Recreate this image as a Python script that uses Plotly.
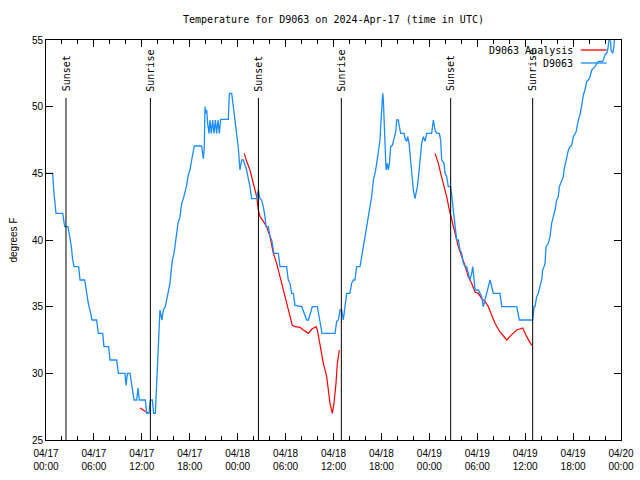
import plotly.graph_objects as go

# ---- data (hours since 2024-04-17 00:00 UTC) ----
obs_hours = [0, 0.83, 1.0, 1.25, 2.09, 2.34, 2.75, 3.0, 3.17, 3.34, 3.51, 4.09, 4.26, 4.84, 5.01, 5.3, 5.59, 5.76,
             6.34, 6.55, 7.1, 7.26, 7.85, 8.01, 8.85, 9.06, 9.89, 10.02, 10.19, 10.52, 10.77, 11.02, 11.36, 11.52,
             11.69, 12.44, 12.6, 12.9, 13.06, 13.31, 13.48, 13.69, 13.86,
             14.02, 14.15, 14.27, 14.52, 14.69, 14.94, 15.19, 15.36, 15.52, 15.65, 15.82, 16.03, 16.19, 16.36, 16.53,
             16.78, 16.99, 17.2, 17.4, 17.61, 17.82, 18.03, 18.24, 18.45, 18.57, 19.49, 19.62, 19.7, 19.82, 19.91,
             20.03, 20.12, 20.24, 20.41, 20.53, 20.7, 20.87, 21.04, 21.21, 21.37, 21.54, 21.71, 21.87, 22.83, 22.96,
             23.25, 23.46, 23.67, 23.87, 24.08, 24.29, 24.5, 24.71, 24.92, 25.12, 25.33, 25.54, 25.75, 26.38,
             26.59, 26.8, 27.0, 27.21, 27.42, 27.55, 27.84, 28.05, 28.26, 28.55, 29.09, 29.3, 30.13, 30.34, 30.55,
             30.76, 30.97, 31.18, 32.02, 32.43, 32.64, 32.85, 33.06, 33.35, 33.98, 34.23, 34.4, 34.56, 36.19, 36.4,
             36.61, 36.82, 37.02, 37.23, 37.44, 37.65, 38.06, 38.27, 38.48, 38.69, 38.9, 39.32,
             39.6, 39.9, 40.15, 40.36, 40.57, 40.78, 40.99, 41.2, 41.41, 41.62, 41.82, 41.91, 42.03, 42.16, 42.24,
             42.32, 42.45, 42.58, 42.74, 42.87, 43.0, 43.16, 43.37, 43.58, 43.79, 43.91, 44.12, 44.25, 44.42, 44.83,
             44.96, 45.16, 45.29, 45.46, 45.58, 45.79, 46.0, 46.2, 46.33, 46.5, 46.67, 46.83, 46.96, 47.04, 47.25,
             47.46, 47.67, 48.29, 48.5, 48.71, 48.92, 49.25, 49.42, 49.55, 49.84, 49.97, 50.17, 50.38, 50.67, 50.8,
             51.01, 51.22, 51.43, 51.63, 51.84, 52.05, 52.26, 52.47, 52.68, 52.88, 53.09, 53.3, 53.43, 53.6, 53.72,
             54.14, 54.55, 54.76, 54.97, 55.18, 55.39, 55.6, 55.81, 56.01, 56.85, 57.06, 58.94, 59.27, 60.94,
             61.11, 61.23, 61.44, 61.65, 61.78, 61.94, 62.07, 62.19, 62.36, 62.49, 62.61, 62.9, 63.11, 63.32, 63.53,
             63.74, 63.95, 64.15, 64.28, 64.57, 64.78, 64.86, 64.99, 65.2, 65.41, 65.61, 65.82, 66.03, 66.37, 66.66,
             66.87, 67.08, 67.29, 67.49, 67.7, 67.91, 68.12, 68.33, 68.75, 68.96, 69.17, 69.7, 69.79, 70.0, 70.21,
             70.33, 70.42, 70.5, 70.7, 70.75, 70.96, 71.12, 71.16, 71.3]
obs_temps = [45, 45, 43.5, 42, 42, 41, 41, 40.25, 39.5, 38.5, 38, 38, 37, 37, 36.25, 35.25, 34.5, 34,
             34, 33, 33, 32, 32, 31, 31, 30, 30, 29.1, 30, 30, 29, 28, 28, 28.9,
             28, 28, 27, 27, 28, 28, 27, 27, 29.25,
             31.75, 33.5, 34.75, 34, 34.75, 35, 35.75, 36.25, 36.75, 37.5, 38.5, 39, 39.75, 40.5, 41.25,
             41.75, 42.75, 43.1, 43.6, 44.1, 44.9, 45.25, 46, 46.75, 47.05, 47.05, 46.6, 46.1, 47, 50,
             49.5, 49.75, 48.75, 48, 49, 48, 49, 48, 49, 48, 49, 48, 49.05, 49.05, 51,
             51, 50, 48.9, 47.6, 46.9, 45.25, 46, 46, 45.6, 45.25, 44.6, 44, 43.1, 43.1,
             43.75, 43.1, 43.0, 42.5, 41.75, 41, 41, 40.25, 40, 39, 39, 38, 38, 37, 36.75,
             36, 36, 35.1, 35, 34.4, 34, 34, 34.4, 35, 35, 34.25, 33.5, 33, 33, 33.9,
             34, 34.75, 34.75, 34, 35, 36, 36, 36.75, 37, 37, 38, 38,
             39, 40, 40.75, 41.75, 42.5, 43.25, 44.5, 45, 45.75, 46.75, 47.5, 48.5, 50.25, 51, 50.5,
             49.25, 46, 45.25, 45.75, 45.25, 45.75, 47, 47.1, 47.6, 48.1, 49, 49, 48.5, 48, 48,
             47.6, 47.4, 47.75, 47.25, 46.5, 44.75, 43.75, 43.1, 43.5, 44, 44.9, 45.9, 46.5, 47.25, 47.75,
             47.4, 48, 48, 49.0, 48.25, 48, 48, 47.5, 46, 45.75, 45, 44.75, 44, 44, 43.25,
             42.25, 41.25, 40, 40, 39.25, 39, 38.25, 38, 38, 37.5, 37, 37.5, 38, 37.1, 36.25,
             36.25, 35.75, 35, 35.5, 36, 36.5, 37, 36.5, 36, 36, 35, 35, 34, 34,
             35, 35, 35.75, 36, 36.5, 36.75, 37, 37.75, 38, 38.25, 39.5, 39.75, 40.25, 41.25, 41.75,
             42.25, 43, 43.25, 44, 44.5, 44.75, 45.25, 45.6, 46.25, 46.75, 47, 47.1, 47.75, 48.1, 49,
             49.4, 50.1, 50.9, 51.25, 51.9, 52, 52.25, 52.75, 53, 53.25, 53.4, 53.4, 53.5, 53.9, 54,
             54.25, 54.75, 55, 54.9, 54.25, 54, 54.5, 55, 56]

ana_hours = [11.77, 12.3, 12.81, None,
             24.83, 25.12, 25.54, 25.96, 26.38, 26.59, 26.8, 27.21, 27.63, 28.05, 28.47, 28.88, 29.3, 29.72,
             30.13, 30.55, 30.84, 31.18, 31.8, 32.22, 32.85, 33.27, 33.81, 33.98, 34.31, 34.73, 35.15, 35.4,
             35.56, 35.85, 36.06, 36.31, 36.48, 36.73, None,
             48.71, 49.13, 49.42, 49.75, 50.17, 50.51, 50.8, 51.01, 51.34, 51.63, 52.05, 52.47, 52.88, 53.3,
             53.72, 54.14, 54.55, 54.97, 55.39, 55.81, 56.22, 56.85, 57.69, 58.31, 58.94, 59.69, 60.19, 60.82]
ana_temps = [27.4, 27.2, 27.0, None,
             46.5, 45.9, 45.25, 44.25, 43.25, 42.25, 41.75, 41.4, 41, 40.25, 39, 38.25, 37.25, 36.25,
             35.25, 34.25, 33.6, 33.5, 33.45, 33.25, 33.0, 33.3, 33.5, 33.25, 32, 30.75, 29.75, 28.75,
             27.75, 27, 27.75, 29.25, 30.75, 31.75, None,
             46.5, 45.75, 45, 44.25, 43.25, 42.25, 41.5, 41, 40.25, 39.5, 38.75, 38.1, 37.25, 36.75,
             36.1, 36, 35.6, 35.4, 35, 34.4, 33.75, 33.1, 32.5, 32.9, 33.25, 33.4, 32.75, 32.1]

sun_hours = [2.5, 13.07, 26.6, 36.98, 50.67, 60.94]
sun_labels = ["Sunset", "Sunrise", "Sunset", "Sunrise", "Sunset", "Sunrise"]

tick_hours = [0, 6, 12, 18, 24, 30, 36, 42, 48, 54, 60, 66, 72]
tick_labels = ["04/17<br>00:00", "04/17<br>06:00", "04/17<br>12:00", "04/17<br>18:00",
               "04/18<br>00:00", "04/18<br>06:00", "04/18<br>12:00", "04/18<br>18:00",
               "04/19<br>00:00", "04/19<br>06:00", "04/19<br>12:00", "04/19<br>18:00",
               "04/20<br>00:00"]

BLUE = "#1a8cff"
RED = "#ff0000"
MONO = "DejaVu Sans Mono"
SANS = "Liberation Sans"

fig = go.Figure()
fig.add_trace(go.Scatter(x=ana_hours, y=ana_temps, mode="lines", name="D9063 Analysis",
                         line=dict(color=RED, width=1.2), connectgaps=False, showlegend=False))
fig.add_trace(go.Scatter(x=obs_hours, y=obs_temps, mode="lines", name="D9063",
                         line=dict(color=BLUE, width=1.3), showlegend=False))

for h, lab in zip(sun_hours, sun_labels):
    fig.add_shape(type="line", x0=h, x1=h, y0=25, y1=50.65, xref="x", yref="y",
                  line=dict(color="black", width=1))
    fig.add_annotation(x=h, y=51.0, xref="x", yref="y", text=lab, showarrow=False,
                       textangle=-90, xanchor="center", yanchor="bottom",
                       font=dict(family=MONO, size=10, color="black"))

# legend (gnuplot style: text right aligned, sample line on the right)
legend_items = [("D9063 Analysis", RED, 0.975), ("D9063", BLUE, 0.9425)]
for txt, col, yy in legend_items:
    fig.add_annotation(x=0.92, y=yy, xref="paper", yref="paper", text=txt, showarrow=False,
                       xanchor="right", yanchor="middle", font=dict(family=MONO, size=10, color="black"))
    fig.add_shape(type="line", x0=0.93, x1=0.975, y0=yy, y1=yy, xref="paper", yref="paper",
                  line=dict(color=col, width=1.3))

fig.update_layout(
    width=640, height=480,
    margin=dict(l=46, r=19, t=40, b=40, autoexpand=False),
    paper_bgcolor="white", plot_bgcolor="white",
    title=dict(text="Temperature for D9063 on 2024-Apr-17 (time in UTC)", x=0.521, xanchor="center",
               yref="container", y=1 - 19 / 480, yanchor="middle",
               font=dict(family=MONO, size=10, color="black")),
    showlegend=False,
)
fig.update_xaxes(range=[0, 72], tickmode="array", tickvals=tick_hours, ticktext=tick_labels,
                 ticks="inside", ticklen=7, tickwidth=1, tickcolor="black",
                 showline=True, linecolor="black", linewidth=1, mirror="allticks",
                 showgrid=False, zeroline=False, automargin=False, ticklabelstandoff=4,
                 minor=dict(tickmode="linear", tick0=0, dtick=2, ticks="inside", ticklen=4,
                            tickcolor="black", tickwidth=1, showgrid=False),
                 tickfont=dict(family=SANS, size=10, color="black"))
fig.update_yaxes(range=[25, 55], tickmode="linear", tick0=25, dtick=5,
                 ticks="inside", ticklen=7, tickwidth=1, tickcolor="black",
                 showline=True, linecolor="black", linewidth=1, mirror="allticks",
                 showgrid=False, zeroline=False, automargin=False,
                 title=dict(text="degrees F", font=dict(family=SANS, size=10, color="black"), standoff=12),
                 tickfont=dict(family=SANS, size=10, color="black"))

fig.write_html("out.html", config={"displayModeBar": False},
               post_script="document.body.style.margin='0';")
